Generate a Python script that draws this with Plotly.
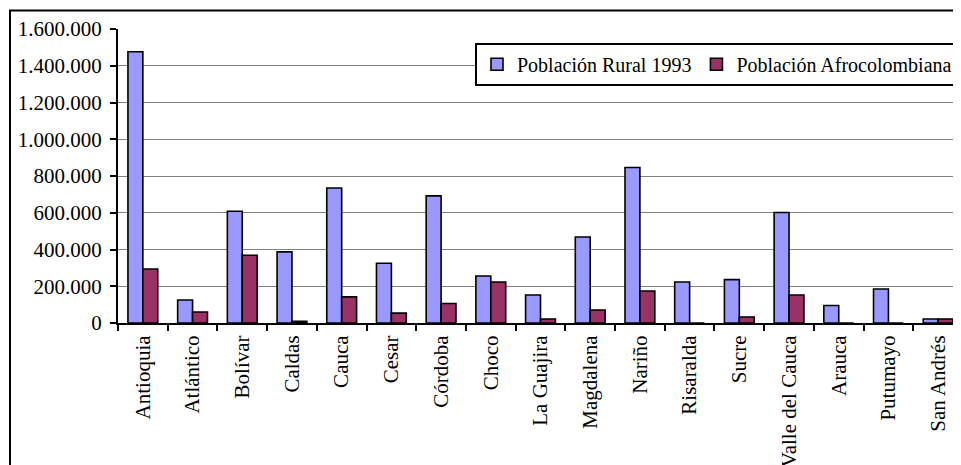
import plotly.graph_objects as go

departamentos = ["Antioquia", "Atlántico", "Bolívar", "Caldas", "Cauca", "Cesar", "Córdoba",
                 "Choco", "La Guajira", "Magdalena", "Nariño", "Risaralda", "Sucre",
                 "Valle del Cauca", "Arauca", "Putumayo", "San Andrés"]
poblacion_rural_1993 = [1476000, 125000, 608000, 387000, 735000, 325000, 692000,
                        256000, 152000, 468000, 846000, 223000, 236000,
                        601000, 95000, 185000, 22000]
poblacion_afro = [294000, 60000, 369000, 9000, 142000, 54000, 106000,
                  223000, 22000, 71000, 174000, 0, 33000,
                  152000, 0, 0, 22000]
y_ticks = [0, 200000, 400000, 600000, 800000, 1000000, 1200000, 1400000, 1600000]

W, H = 961, 465
OFF = 8  # page offset of the figure (body margin)
# plot area in page pixels
PL, PR, PT, PB = 118, 963, 29, 322.7
L = PL - OFF
R = W - (PR - OFF)
T = PT - OFF
B = H - (PB - OFF)
FONT = "Liberation Serif"

fig = go.Figure()
fig.add_trace(go.Bar(x=departamentos, y=poblacion_rural_1993, name="Población Rural 1993",
                     marker=dict(color="#9999FF", line=dict(color="black", width=1.6))))
fig.add_trace(go.Bar(x=departamentos, y=poblacion_afro, name="Población Afrocolombiana",
                     marker=dict(color="#993366", line=dict(color="black", width=1.6))))

def px_x(p):
    return (p - PL) / (PR - PL)
def px_y(p):
    return (PB - p) / (PB - PT)

fig.add_shape(type="rect", xref="paper", yref="paper",
              x0=px_x(10), x1=px_x(966), y0=px_y(472), y1=px_y(10.5),
              line=dict(color="black", width=2), fillcolor="rgba(0,0,0,0)", layer="below")

fig.update_layout(
    width=W, height=H,
    margin=dict(l=L, r=R, t=T, b=B, pad=0),
    paper_bgcolor="white", plot_bgcolor="white",
    font=dict(family=FONT, size=21, color="black"),
    separators=",.",
    barmode="group", bargap=0.4, bargroupgap=0,
    showlegend=True,
    legend=dict(orientation="h", x=px_x(959), xanchor="right", y=px_y(42.7), yanchor="top",
                bordercolor="black", borderwidth=2, bgcolor="white",
                font=dict(family=FONT, size=20, color="black"),
                itemwidth=30, tracegroupgap=0),
    xaxis=dict(showline=True, linecolor="black", linewidth=2, ticks="outside",
               tickson="boundaries", ticklen=6, tickwidth=2, tickcolor="black",
               tickangle=-90, showgrid=False, tickfont=dict(family=FONT, size=21),
               ticklabelstandoff=2,
               range=[-0.5, len(departamentos) - 0.5]),
    yaxis=dict(range=[0, 1600000], tickvals=y_ticks, tickformat=",d",
               showline=True, linecolor="black", linewidth=2, ticks="outside",
               ticklen=6, tickwidth=2, tickcolor="black",
               showgrid=True, gridcolor="#808080", gridwidth=1.3, zeroline=False,
               tickfont=dict(family=FONT, size=21), ticklabelstandoff=4),
)

fig.write_html("out.html")
